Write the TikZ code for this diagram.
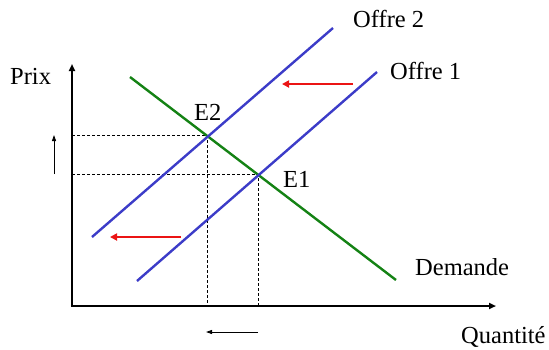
\documentclass[tikz,border=0pt]{standalone}
\usepackage{fontspec}
\setmainfont{Liberation Serif}
\usetikzlibrary{arrows.meta}
\definecolor{supblue}{RGB}{60,60,200}
\definecolor{demgreen}{RGB}{20,130,20}
\definecolor{shiftred}{RGB}{235,20,20}
\begin{document}
\begin{tikzpicture}[x=1pt,y=-1pt,
  axisline/.style={line width=2.4pt,-{Triangle[length=7pt,width=6pt]}},
  supplyline/.style={line width=2.4pt,supblue},
  demandline/.style={line width=2.4pt,demgreen},
  guideline/.style={line width=0.7pt,dash pattern=on 3pt off 2pt},
  shiftarrow/.style={line width=2.6pt,shiftred,-{Triangle[length=7pt,width=7pt]}},
  smallarrow/.style={line width=0.9pt,-{Triangle[length=6pt,width=4pt]}},
  lab/.style={font=\fontsize{24.5}{24.5}\selectfont,inner sep=0pt,anchor=base west}]
\useasboundingbox (0,0) rectangle (549,349);
% axes
\coordinate (O) at (72,306);
\coordinate (Ytop) at (72,64);
\coordinate (Xend) at (496,306);
\draw[axisline] ([yshift=1.2pt]O) -- (Ytop);
\draw[axisline] ([xshift=-1.2pt]O) -- (Xend);
% equilibria
\coordinate (E2) at (207,135);
\coordinate (E1) at (258,174);
\coordinate (E2y) at (72,135);
\coordinate (E1y) at (72,174);
\coordinate (E2x) at (207,306);
\coordinate (E1x) at (258,306);
\draw[guideline] (E2y) -- (E2) -- (E2x);
\draw[guideline] (E1y) -- (E1) -- (E1x);
% curves
\coordinate (Da) at (130,77);
\coordinate (Db) at (396,280);
\coordinate (S2a) at (92,237);
\coordinate (S2b) at (333,28);
\coordinate (S1a) at (137,281);
\coordinate (S1b) at (377,72);
\draw[demandline] (Da) -- (Db);
\draw[supplyline] (S2a) -- (S2b);
\draw[supplyline] (S1a) -- (S1b);
% shift arrows
\coordinate (Ra1) at (353,84);
\coordinate (Rb1) at (282,84);
\coordinate (Ra2) at (181,237);
\coordinate (Rb2) at (110,237);
\draw[shiftarrow] (Ra1) -- (Rb1);
\draw[shiftarrow] (Ra2) -- (Rb2);
% small black arrows
\coordinate (Pa) at (54,174);
\coordinate (Pb) at (54,135);
\coordinate (Qa) at (258,332);
\coordinate (Qb) at (206,332);
\draw[smallarrow] (Pa) -- (Pb);
\draw[smallarrow] (Qa) -- (Qb);
% labels
\node[lab] (prix) at (10,84) {Prix};
\node[lab] (quant) at (461,343) {Quantité};
\node[lab] (o2) at (353,27) {Offre 2};
\node[lab] (o1) at (390,79) {Offre 1};
\node[lab] (le2) at (194,120) {E2};
\node[lab] (le1) at (283,187) {E1};
\node[lab] (dem) at (415,275) {Demande};
\end{tikzpicture}
\end{document}
